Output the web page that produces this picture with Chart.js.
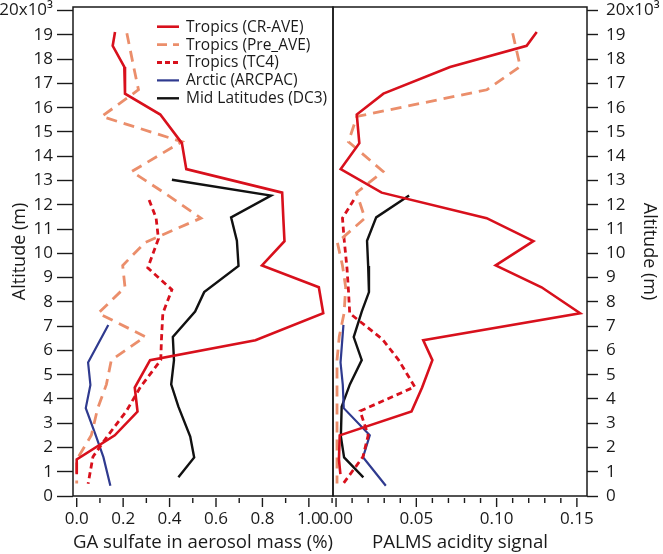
<!DOCTYPE html>
<html><head><meta charset="utf-8">
<script src="https://cdn.jsdelivr.net/npm/chart.js@4/dist/chart.umd.min.js"></script>
<style>
html,body{margin:0;padding:0;background:#fff;}
#wrap{position:relative;width:663px;height:554px;overflow:hidden;background:#fff;}
#c1{position:absolute;left:0;top:0;width:334px;height:554px;}
#c2{position:absolute;left:290px;top:0;width:373px;height:554px;}
</style></head><body>
<div id="wrap">
<canvas id="c1" width="334" height="554"></canvas>
<canvas id="c2" width="373" height="554"></canvas>
</div>
<script>
// ---------------- data (altitude in m) ----------------
const altCRAVE  = [19120, 18550, 17680, 16580, 15720, 14540, 13470, 12500, 11450, 10500, 9500, 8600, 7530, 6420, 5600, 4470, 3480, 2500, 1510, 900];
const sulfCRAVE = [0.165, 0.155, 0.205, 0.208, 0.36, 0.453, 0.472, 0.885, 0.89, 0.895, 0.798, 1.043, 1.062, 0.77, 0.316, 0.25, 0.262, 0.164, 0.0, 0.0];
const acidCRAVE = [0.125, 0.1187, 0.071, 0.0295, 0.0129, 0.0145, 0.0029, 0.0284, 0.0938, 0.1229, 0.0994, 0.128, 0.152, 0.0543, 0.060, 0.0536, 0.047, 0.0023, 0.0018, 0.0027];

const altPreAVE  = [19070, 17700, 16740, 15640, 14600, 13370, 12500, 11450, 10450, 9500, 8600, 7530, 6570, 5600, 4600, 3600, 2500, 1500, 520];
const sulfPreAVE = [0.216, 0.245, 0.266, 0.108, 0.453, 0.237, 0.376, 0.535, 0.295, 0.198, 0.208, 0.093, 0.295, 0.149, 0.128, 0.09, 0.063, 0.0, 0.0];
const acidPreAVE = [0.110, 0.1147, 0.094, 0.013, 0.0077, 0.0293, 0.0127, 0.018, 0.0008, 0.004, 0.006, 0.005, 0.002, 0.0006, 0.0006, 0.0006, 0.0006, 0.0006, 0.0006];

const altTC4  = [12200, 11450, 10600, 9400, 8500, 7530, 6450, 5600, 4500, 3500, 2500, 1620, 500];
const sulfTC4 = [0.312, 0.342, 0.352, 0.306, 0.41, 0.371, 0.365, 0.362, 0.275, 0.214, 0.135, 0.07, 0.049];
const acidTC4 = [0.011, 0.004, 0.005, 0.0068, 0.0077, 0.0085, 0.029, 0.039, 0.049, 0.015, 0.020, 0.0168, 0.0044];

const altARCPAC  = [7050, 5500, 4580, 3620, 2500, 1600, 420];
const sulfARCPAC = [0.136, 0.049, 0.059, 0.039, 0.082, 0.115, 0.145];
const acidARCPAC = [0.0046, 0.0028, 0.0042, 0.0048, 0.021, 0.0168, 0.031];

const altDC3  = [13030, 12380, 11480, 10520, 9480, 8400, 7600, 6550, 5600, 4600, 3680, 2450, 1590, 770];
const sulfDC3 = [0.41, 0.837, 0.665, 0.69, 0.697, 0.549, 0.51, 0.414, 0.419, 0.407, 0.438, 0.489, 0.506, 0.438];
const acidDC3 = [null, 0.0455, 0.025, 0.0193, 0.02, 0.0205, 0.016, 0.011, 0.016, 0.0086, 0.0035, 0.003, 0.005, 0.017];

const seriesLabels = ['Tropics (CR-AVE)', 'Tropics (Pre_AVE)', 'Tropics (TC4)', 'Arctic (ARCPAC)', 'Mid Latitudes (DC3)'];

// ---------------- ticks ----------------
const altTicks = [0,1000,2000,3000,4000,5000,6000,7000,8000,9000,10000,11000,12000,13000,14000,15000,16000,17000,18000,19000,20000];
const altTickLabels = ['0','1','2','3','4','5','6','7','8','9','10','11','12','13','14','15','16','17','18','19','20x10\u00B3'];
const sulfTicks = [0,0.1,0.2,0.3,0.4,0.5,0.6,0.7,0.8,0.9,1.0,1.1];
const sulfTickLabels = ['0.0','','0.2','','0.4','','0.6','','0.8','','1.0',''];
const acidTicks = [0,0.01,0.02,0.03,0.04,0.05,0.06,0.07,0.08,0.09,0.10,0.11,0.12,0.13,0.14,0.15];
const acidTickLabels = ['0.00','','','','','0.05','','','','','0.10','','','','','0.15'];

// ---------------- styles ----------------
const RED = '#d8101c', SALMON = '#eb8e6b', NAVY = '#2f3a8f', BLACK = '#111111', INK = '#1a1a1a';
const FONT = '"Open Sans", "DejaVu Sans", sans-serif';
Chart.defaults.font.family = FONT;
Chart.defaults.color = INK;

const styles = [
  {color: RED, width: 2.6, dash: []},
  {color: SALMON, width: 2.8, dash: [11, 7]},
  {color: RED, width: 2.8, dash: [6, 4]},
  {color: NAVY, width: 2.2, dash: []},
  {color: BLACK, width: 2.4, dash: []}
];

function ds(i, alt, vals) {
  return {
    label: seriesLabels[i],
    data: alt.map((a, k) => ({x: vals[k], y: a})).filter(p => p.x !== null),
    showLine: true, pointRadius: 0, fill: false, tension: 0,
    borderColor: styles[i].color, borderWidth: styles[i].width, borderDash: styles[i].dash,
    borderJoinStyle: 'miter', borderCapStyle: 'butt'
  };
}

// ---------------- plugins ----------------
const framePlugin = {
  id: 'frame',
  afterDatasetsDraw(chart, args, o) {
    const {left, top, right, bottom} = chart.chartArea;
    const ctx = chart.ctx;
    ctx.save();
    ctx.strokeStyle = o.color; ctx.lineWidth = o.width; ctx.setLineDash([]);
    ctx.strokeRect(left, top, right - left, bottom - top);
    ctx.restore();
  }
};
const xTickPlugin = {
  id: 'xTicks',
  afterDraw(chart, args, o) {
    const s = chart.scales.x, ctx = chart.ctx, b = chart.chartArea.bottom;
    ctx.save();
    ctx.strokeStyle = o.color; ctx.lineWidth = o.width; ctx.setLineDash([]);
    s.ticks.forEach(t => {
      const x = s.getPixelForValue(t.value);
      const len = t.label ? o.major : o.minor;
      ctx.beginPath(); ctx.moveTo(x, b + o.gap); ctx.lineTo(x, b + o.gap + len); ctx.stroke();
    });
    ctx.restore();
  }
};
const legendPlugin = {
  id: 'inLegend',
  afterDraw(chart, args, o) {
    if (!o.show) return;
    const ctx = chart.ctx;
    ctx.save();
    ctx.font = o.font; ctx.textBaseline = 'middle'; ctx.textAlign = 'left';
    chart.data.datasets.forEach((d, i) => {
      const y = o.y + i * o.rowH;
      ctx.strokeStyle = d.borderColor; ctx.lineWidth = d.borderWidth;
      ctx.setLineDash(o.dash[i]);
      ctx.beginPath(); ctx.moveTo(o.x, y); ctx.lineTo(o.x + o.len, y); ctx.stroke();
      ctx.fillStyle = o.color;
      ctx.fillText(d.label, o.x + o.len + o.gap, y + 0.5);
    });
    ctx.restore();
  }
};

function xScale(min, max, ticks, labels, title) {
  return {
    type: 'linear', position: 'bottom', min: min, max: max,
    afterBuildTicks: s => { s.ticks = ticks.map(v => ({value: v})); },
    afterFit: s => { s.height = 58; s.paddingLeft = 0; s.paddingRight = 0; },
    grid: {display: true, drawOnChartArea: false, drawTicks: false},
    border: {display: false},
    ticks: {autoSkip: false, maxRotation: 0, minRotation: 0, padding: 13, color: INK,
            font: {size: 17}, callback: (v, i) => labels[i]},
    title: {display: true, text: title, color: INK, font: {size: 18.7}, padding: {top: 0, bottom: 0}}
  };
}
function yScale(pos, width, tickLen, pad, titlePad) {
  return {
    type: 'linear', position: pos, min: 0, max: 20150,
    afterBuildTicks: s => { s.ticks = altTicks.map(v => ({value: v})); },
    afterFit: s => { s.width = width; s.paddingTop = 0; s.paddingBottom = 0; },
    grid: {display: true, drawOnChartArea: false, drawTicks: true, tickLength: tickLen, tickColor: INK, tickWidth: 1.4},
    border: {display: false},
    ticks: {autoSkip: false, padding: pad, color: INK, font: {size: 17}, callback: (v, i) => altTickLabels[i]},
    title: {display: true, text: 'Altitude (m)', color: INK, font: {size: 18}, padding: {top: titlePad, bottom: 0}}
  };
}

const dashLegend = styles.map(s => s.dash.length ? [s.dash[0] - 1, s.dash[1] - 1] : []);

// ---------------- left panel ----------------
new Chart(document.getElementById('c1'), {
  type: 'scatter',
  data: {datasets: [
    ds(0, altCRAVE, sulfCRAVE), ds(1, altPreAVE, sulfPreAVE), ds(2, altTC4, sulfTC4),
    ds(3, altARCPAC, sulfARCPAC), ds(4, altDC3, sulfDC3)
  ]},
  options: {
    responsive: false, animation: false, events: [],
    layout: {padding: {left: 0, right: 1, top: 7, bottom: 0}},
    plugins: {
      legend: {display: false}, tooltip: {enabled: false},
      frame: {color: INK, width: 1.5},
      xTicks: {color: INK, width: 1.4, gap: 2, major: 9, minor: 5},
      inLegend: {show: true, x: 157, y: 26.7, rowH: 17.9, len: 22, gap: 7, font: '15.5px ' + FONT, color: INK, dash: dashLegend}
    },
    scales: {
      x: xScale(-0.016, 1.104, sulfTicks, sulfTickLabels, 'GA sulfate in aerosol mass (%)'),
      y: yScale('left', 73, 16, 4, 9)
    }
  },
  plugins: [framePlugin, xTickPlugin, legendPlugin]
});

// ---------------- right panel ----------------
new Chart(document.getElementById('c2'), {
  type: 'scatter',
  data: {datasets: [
    ds(0, altCRAVE, acidCRAVE), ds(1, altPreAVE, acidPreAVE), ds(2, altTC4, acidTC4),
    ds(3, altARCPAC, acidARCPAC), ds(4, altDC3, acidDC3)
  ]},
  options: {
    responsive: false, animation: false, events: [],
    layout: {padding: {left: 43, right: 0, top: 7, bottom: 0}},
    plugins: {
      legend: {display: false}, tooltip: {enabled: false},
      frame: {color: INK, width: 1.5},
      xTicks: {color: INK, width: 1.4, gap: 2, major: 9, minor: 5},
      inLegend: {show: false}
    },
    scales: {
      x: xScale(-0.0019, 0.1563, acidTicks, acidTickLabels, 'PALMS acidity signal'),
      y: yScale('right', 76, 11, 8, 3)
    }
  },
  plugins: [framePlugin, xTickPlugin, legendPlugin]
});
</script>
</body></html>
